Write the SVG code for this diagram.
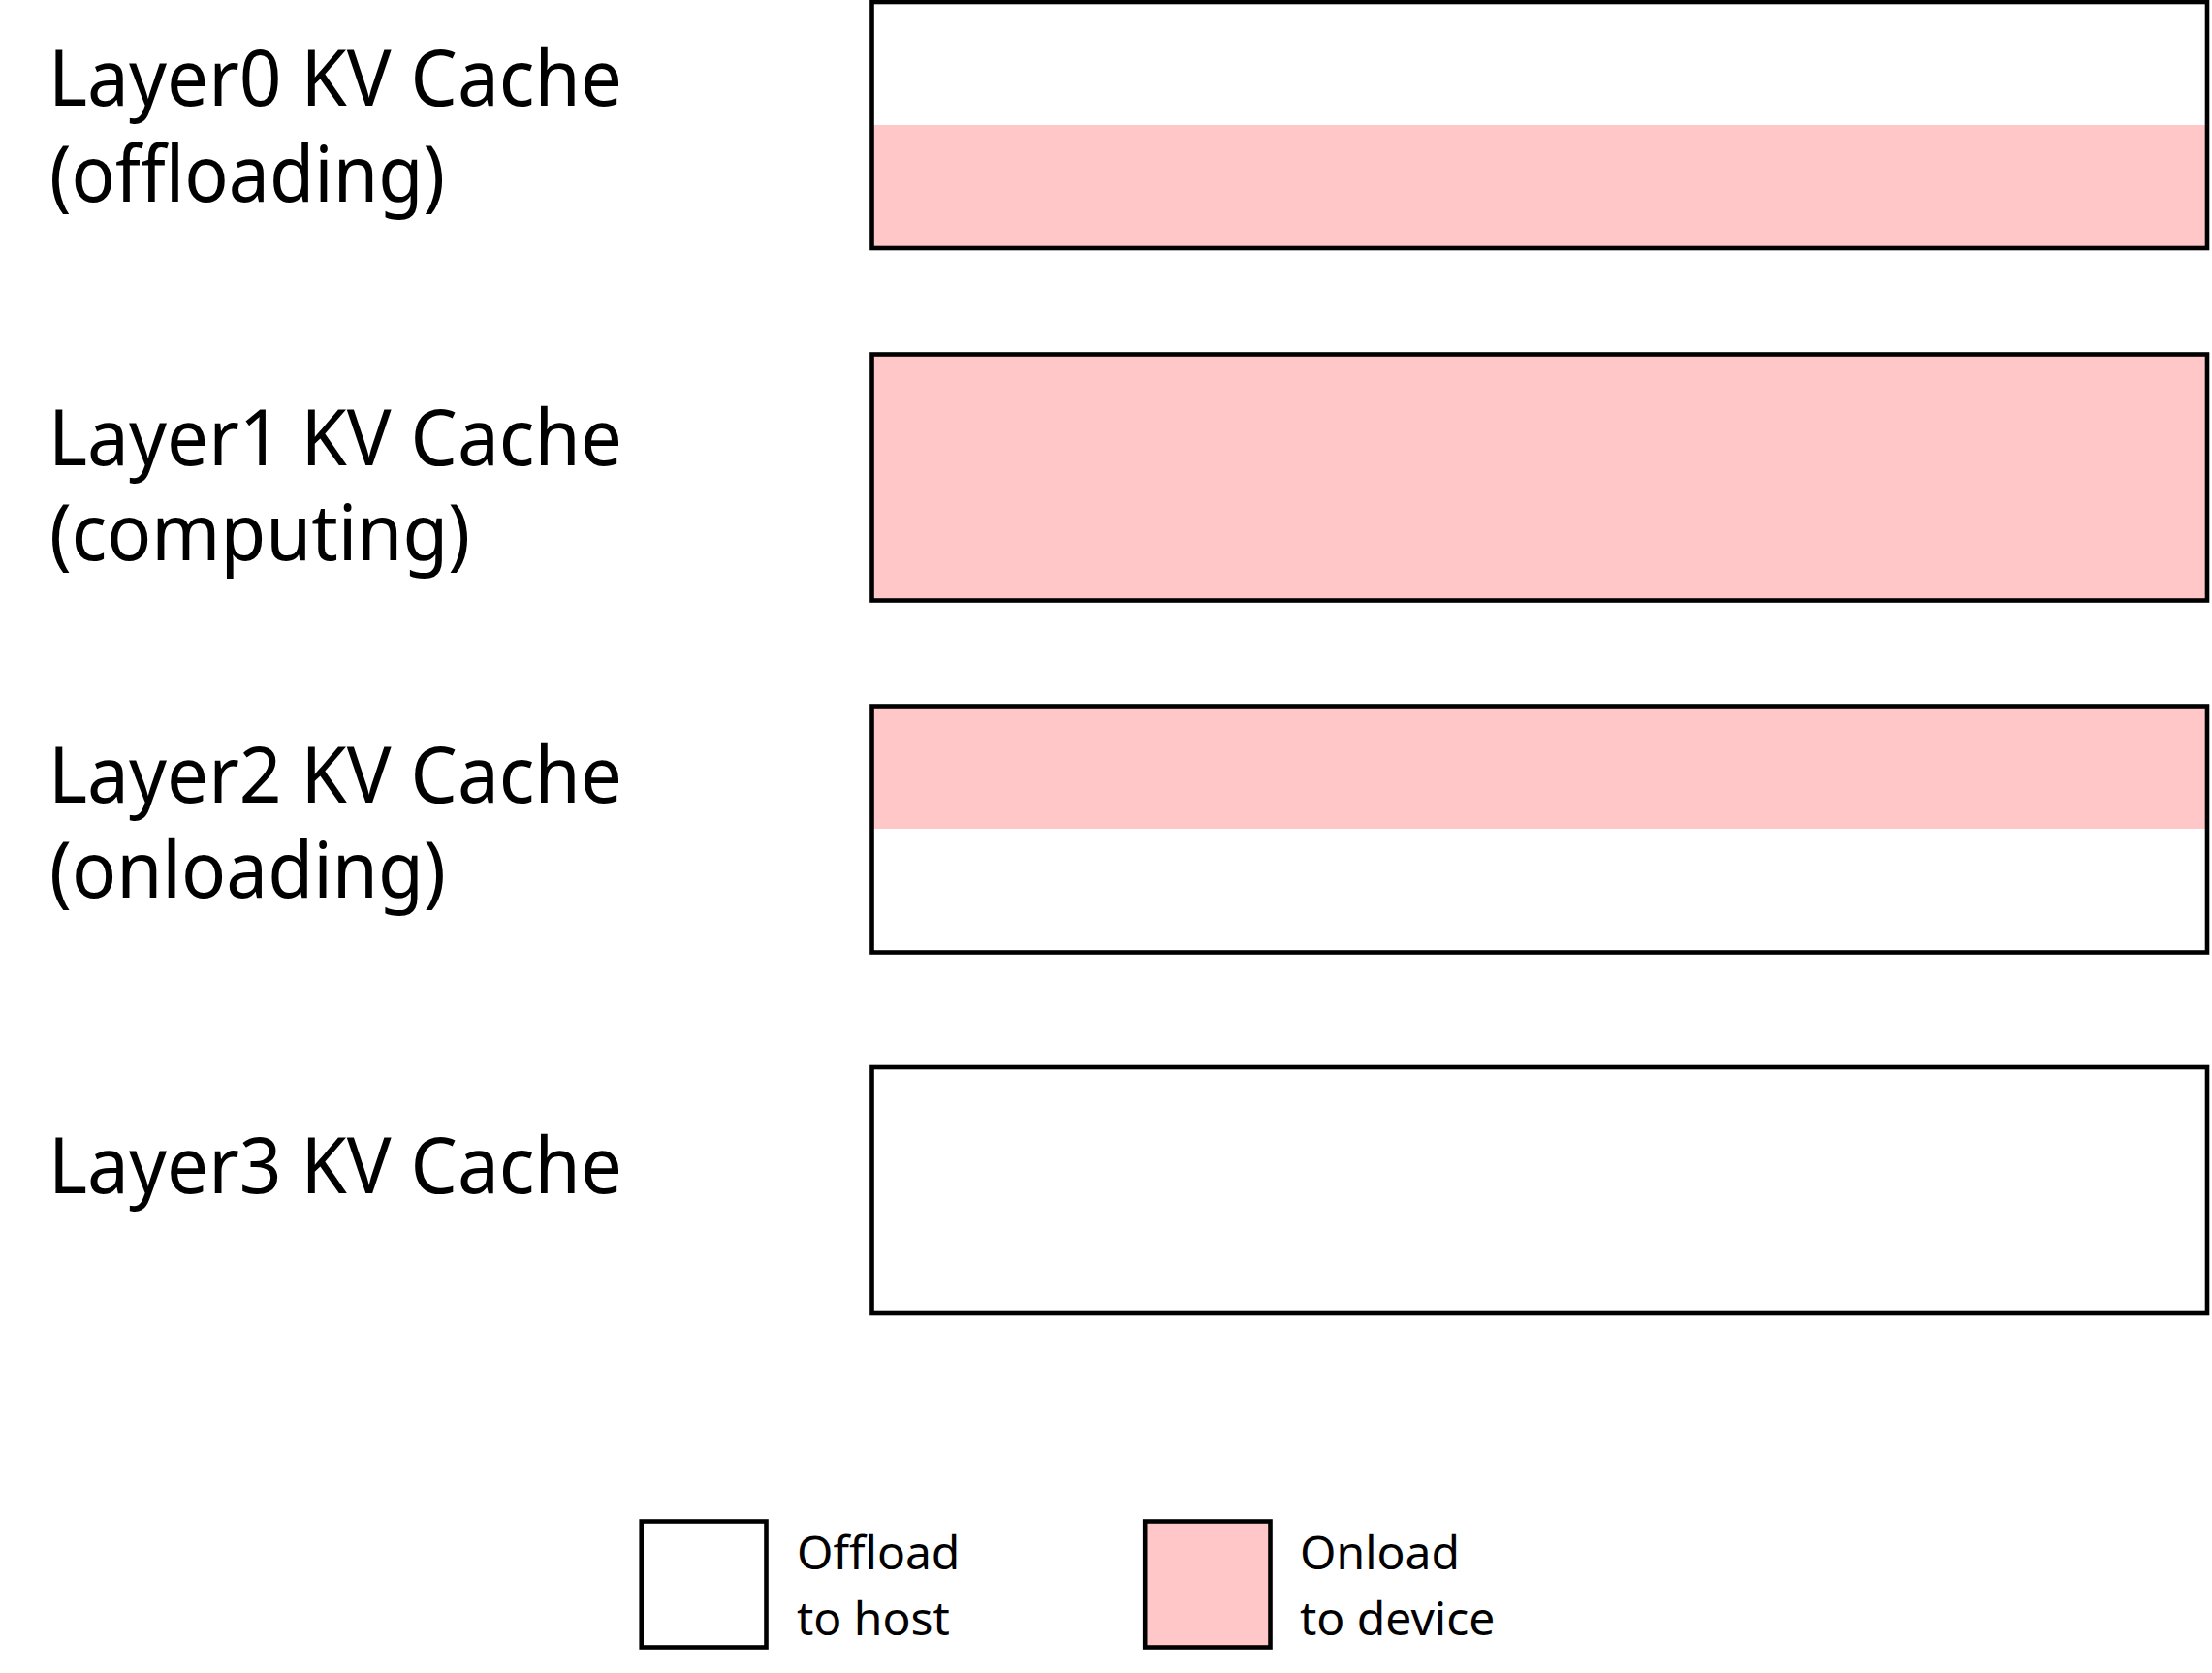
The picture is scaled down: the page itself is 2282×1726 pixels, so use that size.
<svg xmlns="http://www.w3.org/2000/svg" width="2282" height="1726" viewBox="0 0 2282 1726">
<style>
.lbl{font-family:"Noto Sans","DejaVu Sans",sans-serif;font-size:80px;fill:#000}
.leg{font-family:"Noto Sans","DejaVu Sans",sans-serif;font-size:48px;fill:#000}
.frame{fill:none;stroke:#000;stroke-width:4.6}
.pink{fill:#FFC7C7}
.white{fill:#FFFFFF}
</style>
<rect x="0" y="0" width="2282" height="1726" fill="#FFFFFF"/>
<g id="layer0">
<text class="lbl"><tspan x="50" y="109" textLength="592" lengthAdjust="spacingAndGlyphs">Layer0 KV Cache</tspan><tspan x="51" y="208" textLength="408" lengthAdjust="spacingAndGlyphs">(offloading)</tspan></text>
<rect class="white" x="899.5" y="2" width="1377.5" height="127"/>
<rect class="pink" x="899.5" y="129" width="1377.5" height="127"/>
<rect class="frame" x="899.5" y="2" width="1377.5" height="254"/>
</g>
<g id="layer1">
<text class="lbl"><tspan x="50" y="480" textLength="592" lengthAdjust="spacingAndGlyphs">Layer1 KV Cache</tspan><tspan x="51" y="578" textLength="434" lengthAdjust="spacingAndGlyphs">(computing)</tspan></text>
<rect class="pink" x="899.5" y="365.5" width="1377.5" height="254"/>
<rect class="frame" x="899.5" y="365.5" width="1377.5" height="254"/>
</g>
<g id="layer2">
<text class="lbl"><tspan x="50" y="828" textLength="592" lengthAdjust="spacingAndGlyphs">Layer2 KV Cache</tspan><tspan x="51" y="926" textLength="409" lengthAdjust="spacingAndGlyphs">(onloading)</tspan></text>
<rect class="pink" x="899.5" y="728.5" width="1377.5" height="126.5"/>
<rect class="white" x="899.5" y="855" width="1377.5" height="127.5"/>
<rect class="frame" x="899.5" y="728.5" width="1377.5" height="254"/>
</g>
<g id="layer3">
<text class="lbl" x="50" y="1231" textLength="592" lengthAdjust="spacingAndGlyphs">Layer3 KV Cache</text>
<rect class="white" x="899.5" y="1101" width="1377.5" height="254"/>
<rect class="frame" x="899.5" y="1101" width="1377.5" height="254"/>
</g>
<g id="legend-offload">
<rect class="frame" x="661.7" y="1569.5" width="128.8" height="130" style="fill:#FFFFFF"/>
<text class="leg"><tspan x="822" y="1619">Offload</tspan><tspan x="822" y="1687">to host</tspan></text>
</g>
<g id="legend-onload">
<rect class="frame" x="1181.2" y="1569.5" width="129.3" height="130" style="fill:#FFC7C7"/>
<text class="leg"><tspan x="1341" y="1619">Onload</tspan><tspan x="1341" y="1687">to device</tspan></text>
</g>
<g id="connectors"></g>
</svg>
